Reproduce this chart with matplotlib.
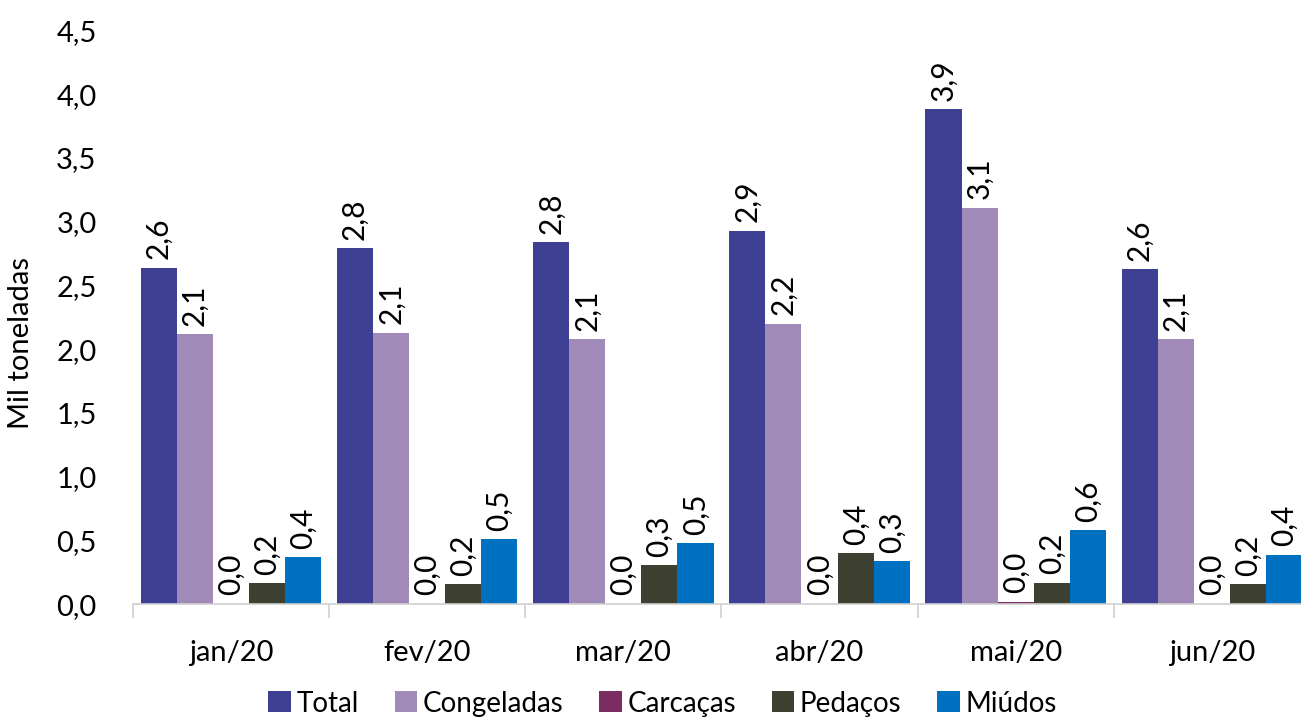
import matplotlib.pyplot as plt
import numpy as np

plt.rcParams['font.family'] = ['Lato', 'DejaVu Sans']

meses = ['jan/20', 'fev/20', 'mar/20', 'abr/20', 'mai/20', 'jun/20']
total = [2.64, 2.79, 2.84, 2.93, 3.88, 2.63]
congeladas = [2.12, 2.13, 2.08, 2.20, 3.11, 2.08]
carcacas = [0.004, 0.004, 0.004, 0.004, 0.02, 0.004]
pedacos = [0.165, 0.157, 0.306, 0.40, 0.17, 0.157]
miudos = [0.37, 0.51, 0.48, 0.34, 0.58, 0.39]

series = [('Total', total, '#3F3F94'),
          ('Congeladas', congeladas, '#A08AB8'),
          ('Carcaças', carcacas, '#7B2D62'),
          ('Pedaços', pedacos, '#3E4031'),
          ('Miúdos', miudos, '#0070C0')]

fig = plt.figure(figsize=(13.01, 7.22), dpi=100)
ax = fig.add_axes([0.102, 0.163, 0.905, 0.795])

x = np.arange(len(meses))
w = 0.184
for i, (nome, vals, cor) in enumerate(series):
    pos = x + (i - 2) * w
    ax.bar(pos, vals, w, color=cor, label=nome)
    for p, v in zip(pos, vals):
        ax.annotate(f'{v:.1f}'.replace('.', ','), (p, v), xytext=(0, 6),
                    textcoords='offset points', rotation=90,
                    ha='center', va='bottom', fontsize=21.5)

ax.set_xlim(-0.5, len(meses) - 0.5)
ax.set_ylim(0, 4.5)
ax.set_yticks(np.arange(0, 4.51, 0.5))
ax.set_yticklabels([f'{t:.1f}'.replace('.', ',') for t in np.arange(0, 4.51, 0.5)])
ax.set_xticks(x)
ax.set_xticklabels(meses)
ax.set_xticks(np.arange(-0.5, len(meses), 1), minor=True)
ax.tick_params(axis='x', which='major', length=0, pad=26, labelsize=21)
ax.tick_params(axis='x', which='minor', length=10, color='#D0D0D0', width=1.2)
ax.tick_params(axis='y', length=0, pad=26, labelsize=21)
for s in ['top', 'right', 'left']:
    ax.spines[s].set_visible(False)
ax.spines['bottom'].set_color('#D0D0D0')
ax.spines['bottom'].set_linewidth(1.2)

ax.set_ylabel('Mil toneladas', fontsize=21)
ax.yaxis.set_label_coords(-0.0835, 0.456)

ax.legend(loc='upper center', bbox_to_anchor=(0.45, -0.126), ncol=5, frameon=False,
          fontsize=20, handlelength=0.8, handleheight=0.8, handletextpad=0.2,
          columnspacing=1.3, borderpad=0.0)

fig.savefig('out.png', dpi=100)
